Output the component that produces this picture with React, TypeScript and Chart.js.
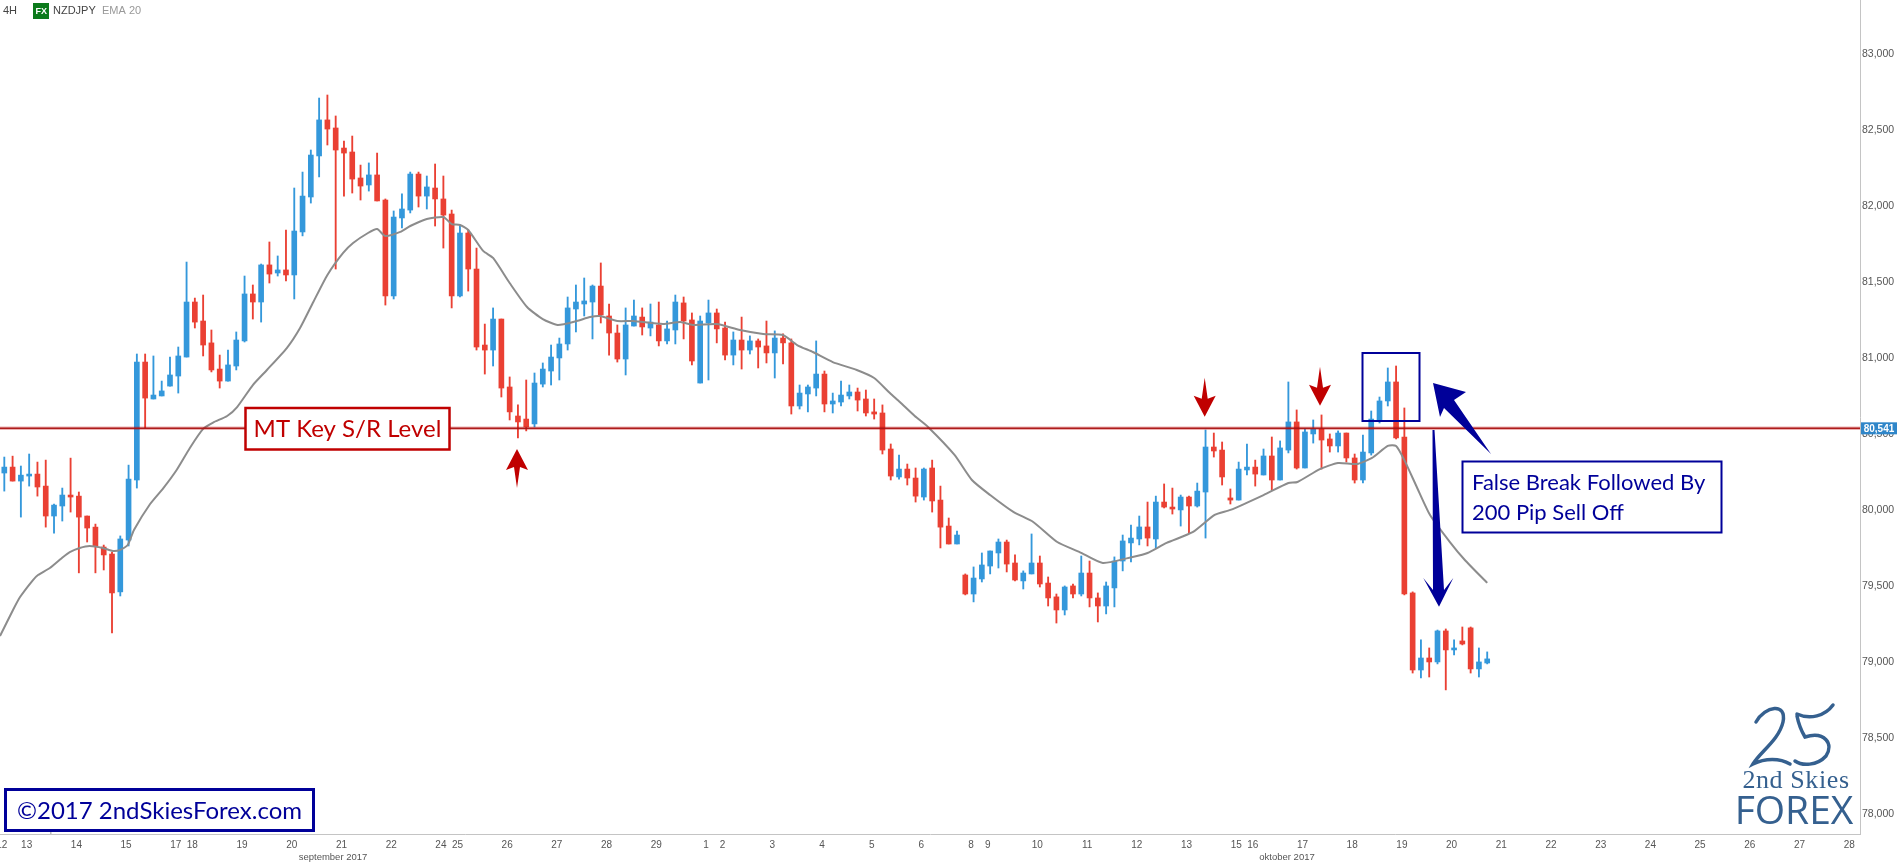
import React, { useEffect, useRef } from "react";
import { Chart, registerables } from "chart.js";

Chart.register(...registerables);

const highs = [
  80348,80354,80289,80368,80315,80328,80039,80144,80341,80118,
  79960,79907,79769,79723,79829,80295,81026,81026,81013,80848,
  81006,81072,81631,81394,81414,81184,81019,81052,81171,81539,
  81480,81618,81763,81671,81842,82118,82223,82368,82710,82730,
  82592,82427,82460,82269,82283,82348,82046,81967,82079,82223,
  82223,82197,82276,82197,81973,81875,81842,81723,81223,81329,
  81256,80875,80691,80855,80901,80967,81085,81131,81401,81480,
  81526,81480,81625,81355,81217,81329,81381,81329,81355,81368,
  81243,81414,81401,81296,81276,81381,81322,81236,81171,81269,
  81145,81125,81243,81178,81158,81125,80822,80822,81112,80914,
  80769,80848,80822,80802,80789,80730,80691,80434,80361,80302,
  80276,80276,80328,80157,79947,79861,79579,79625,79717,79730,
  79809,79802,79704,79599,79842,79697,79559,79447,79500,79513,
  79697,79664,79454,79526,79691,79835,79901,79960,80052,80091,
  80171,80144,80098,80091,80177,80526,80506,80447,80138,80315,
  80434,80328,80401,80480,80454,80842,80658,80533,80592,80625,
  80500,80520,80506,80368,80493,80651,80743,80934,80947,80671,
  79461,79145,79092,79210,79217,79145,79230,79230,79092,79066,
];
const lows = [
  80124,80190,79953,80157,80091,79887,79848,79927,79986,79586,
  79789,79586,79605,79191,79434,79763,80144,80539,80730,80750,
  80815,80769,81006,81197,81013,80908,80802,80848,80921,81105,
  81256,81236,81493,81539,81506,81388,81803,82019,82191,82401,
  81585,82065,82085,82039,82098,82033,81348,81388,81855,81954,
  81993,81980,81868,81723,81329,81401,81440,81052,80894,80947,
  80743,80592,80474,80520,80546,80809,80822,80855,81052,81171,
  81276,81125,81230,81019,80973,80888,81210,81151,81145,81079,
  81092,81092,81125,80954,80835,80855,81099,80987,80954,80927,
  81026,80934,80967,80868,80960,80631,80664,80645,80750,80645,
  80638,80684,80730,80651,80618,80598,80368,80197,80203,80164,
  80052,80065,79986,79750,79776,79776,79441,79395,79526,79579,
  79618,79592,79533,79480,79579,79493,79368,79256,79309,79421,
  79434,79362,79263,79316,79362,79599,79658,79770,79763,79750,
  80013,79973,79894,79848,80019,79815,80348,80164,80039,80065,
  80230,80157,80230,80131,80197,80375,80269,80276,80440,80269,
  80381,80381,80315,80177,80177,80361,80572,80684,80467,79441,
  78927,78895,78901,78987,78816,79046,79112,78927,78901,78987,
];
const opens = [
  80243,80282,80190,80223,80236,80157,79960,80026,80098,80091,
  79960,79887,79756,79710,79461,79802,80197,80973,80730,80750,
  80815,80881,81006,81368,81243,81099,80927,80848,80947,81112,
  81421,81368,81612,81559,81579,81546,81829,82059,82329,82566,
  82513,82381,82355,82184,82138,82204,82039,81408,81921,81973,
  82210,82065,82118,82046,81947,81408,81822,81585,81085,81052,
  81256,80809,80618,80598,80566,80828,80914,81000,81092,81322,
  81355,81368,81473,81276,81164,80993,81210,81269,81197,81217,
  81112,81184,81362,81250,80835,81230,81296,81197,81019,81118,
  81052,81112,81079,81033,81131,81099,80684,80763,80802,80894,
  80697,80710,80750,80776,80730,80645,80638,80401,80217,80269,
  80210,80085,80276,80065,79894,79776,79572,79447,79546,79631,
  79717,79789,79651,79533,79579,79651,79519,79428,79342,79500,
  79447,79585,79421,79368,79487,79664,79783,79809,79888,79809,
  80052,80019,80000,80085,80026,80118,80414,80394,80079,80065,
  80263,80282,80230,80355,80197,80394,80579,80276,80500,80533,
  80467,80421,80506,80342,80197,80375,80592,80717,80842,80480,
  79454,78947,79026,79000,79204,79079,79138,79224,78954,78993,
];
const closes = [
  80282,80190,80229,80236,80151,79960,80032,80098,80085,79953,
  79881,79763,79704,79454,79809,80203,80973,80736,80756,80783,
  80888,81013,81368,81236,81085,80921,80848,80954,81118,81421,
  81368,81612,81552,81579,81546,81835,82065,82335,82566,82506,
  82368,82348,82177,82131,82204,82033,81408,81927,81980,82210,
  82065,82125,82046,81940,81408,81822,81585,81072,81052,81256,
  80802,80645,80579,80546,80835,80927,81006,81092,81329,81368,
  81375,81473,81283,81164,80993,81217,81276,81204,81236,81112,
  81191,81368,81243,80980,81243,81296,81191,81019,81118,81052,
  81112,81072,81033,81131,81099,80684,80769,80809,80894,80697,
  80717,80756,80776,80723,80638,80631,80394,80223,80269,80210,
  80091,80269,80059,79887,79776,79835,79447,79552,79638,79730,
  79789,79644,79539,79585,79651,79513,79421,79342,79493,79447,
  79585,79421,79368,79500,79664,79796,79815,79888,79815,80052,
  80019,80006,80085,80026,80124,80414,80388,80217,80065,80269,
  80282,80236,80355,80197,80408,80579,80276,80513,80533,80460,
  80421,80506,80342,80197,80381,80598,80717,80842,80474,79447,
  78947,79026,79000,79204,79079,79092,79118,78954,79000,79020,
];

const emaIndex = [
  -0.52,1.05,1.9,3.46,4.07,5.5,7.1,7.9,9.1,10.3,11.9,13.1,14,14.9,15.65,17.6,19.2,20.8,22.4,24,
  25.2,26.9,28.1,30,31.7,34.1,35.7,37.3,39,40.9,42.1,43.9,45,46,47.8,49,51,53,54,55,
  56,57.8,59,61,63.1,65,66.8,69.1,70.7,71.9,74,75.9,79.5,81.6,83.1,86,88.8,91.6,94,95.7,
  97.6,100,102.9,105,106.9,108.1,109.9,111.5,114.7,116.8,119,121.8,124.2,127.1,129.8,132.6,136.2,138,140.3,143.5,
  146.1,148,152,155,156.1,158.8,161,163.3,165.1,167,168,169,170.5,172.1,174.5,176.3,179,
];
const emaPrice = [
  79171,79342,79427,79539,79572,79618,79691,79723,79750,79763,79750,79730,79737,79769,79868,80039,80144,80263,80408,80533,
  80575,80618,80677,80822,80921,81065,81197,81368,81546,81691,81756,81822,81848,81802,81829,81868,81914,81927,81881,81875,
  81842,81704,81658,81493,81335,81256,81217,81243,81269,81276,81243,81243,81223,81236,81217,81223,81184,81158,81151,81085,
  81039,80973,80921,80868,80769,80710,80618,80546,80362,80197,80098,79987,79921,79789,79723,79651,79691,79717,79783,79855,
  79967,80000,80098,80177,80184,80269,80309,80302,80342,80421,80421,80328,80151,79967,79789,79671,79520,
];

const keyLevel = 80537;
const lastPriceLabel = "80,541";
const priceTicks = [78000,78500,79000,79500,80000,80500,81000,81500,82000,82500,83000];
const dayLabels = ["12","13","14","15","17","18","19","20","21","22","24","25","26","27","28","29","1","2","3","4","5","6","8","9","10","11","12","13","15","16","17","18","19","20","21","22","23","24","25","26","27","28"];
const dayIndex = [0,3,9,15,21,23,29,35,41,47,53,55,61,67,73,79,85,87,93,99,105,111,117,119,125,131,137,143,149,151,157,163,169,175,181,187,193,199,205,211,217,223];
const monthLabels = ["september 2017", "oktober 2017"];

const BLUE = "#3498db";
const RED = "#ea4033";
const DARK_RED = "#c00000";
const NAVY = "#000099";
const LOGO = "#35608f";

function poly(ctx: CanvasRenderingContext2D, pts: number[][], color: string) {
  ctx.beginPath();
  pts.forEach((p, i) => (i ? ctx.lineTo(p[0], p[1]) : ctx.moveTo(p[0], p[1])));
  ctx.closePath();
  ctx.fillStyle = color;
  ctx.fill();
}
function downArrow(ctx: CanvasRenderingContext2D, x: number, tip: number) {
  poly(ctx, [[x, tip - 39], [x + 3, tip - 18], [x + 11, tip - 21], [x, tip], [x - 11, tip - 21], [x - 3, tip - 18]], DARK_RED);
}
function upArrow(ctx: CanvasRenderingContext2D, x: number, tip: number) {
  poly(ctx, [[x, tip + 39], [x + 3, tip + 18], [x + 11, tip + 21], [x, tip], [x - 11, tip + 21], [x - 3, tip + 18]], DARK_RED);
}
function textBox(ctx: CanvasRenderingContext2D, x: number, y: number, w: number, h: number, color: string, lw: number) {
  ctx.fillStyle = "#fff";
  ctx.fillRect(x, y, w, h);
  ctx.strokeStyle = color;
  ctx.lineWidth = lw;
  ctx.strokeRect(x, y, w, h);
}

const overlay = {
  id: "overlay",
  afterDraw(chart: any) {
    const ctx: CanvasRenderingContext2D = chart.ctx;
    ctx.save();
    ctx.textBaseline = "middle";
    ctx.textAlign = "left";

    // header
    ctx.font = "11px 'Liberation Sans'";
    ctx.fillStyle = "#444";
    ctx.fillText("4H", 3, 11);
    ctx.fillStyle = "#0b7a1b";
    ctx.fillRect(33, 3, 16, 16);
    ctx.fillStyle = "#fff";
    ctx.font = "bold 9px 'Liberation Sans'";
    ctx.fillText("FX", 35.5, 11.5);
    ctx.font = "11px 'Liberation Sans'";
    ctx.fillStyle = "#444";
    ctx.fillText("NZDJPY", 53, 11);
    ctx.fillStyle = "#999";
    ctx.fillText("EMA 20", 102, 11);

    // month labels
    ctx.font = "9.5px 'Liberation Sans'";
    ctx.fillStyle = "#555";
    ctx.textAlign = "center";
    ctx.fillText(monthLabels[0], 333, 857);
    ctx.fillText(monthLabels[1], 1287, 857);

    // last price tag
    const yLevel = chart.scales.y.getPixelForValue(keyLevel);
    ctx.fillStyle = "#2f86c9";
    ctx.fillRect(1861, yLevel - 6, 36, 12);
    ctx.fillStyle = "#fff";
    ctx.font = "bold 10px 'Liberation Sans'";
    ctx.fillText(lastPriceLabel, 1879, yLevel + 0.5);

    // indicative note
    ctx.textAlign = "left";
    ctx.font = "8px 'Liberation Sans'";
    ctx.fillStyle = "#777";
    ctx.fillText("Indicative price", 14, 830);

    // key level box
    textBox(ctx, 245.5, 408, 204, 41.5, DARK_RED, 2.5);
    ctx.font = "24px Lato";
    ctx.fillStyle = DARK_RED;
    ctx.textAlign = "center";
    ctx.fillText("MT Key S/R Level", 347.5, 429);

    // red arrows
    upArrow(ctx, 517, 449);
    downArrow(ctx, 1204.7, 416.7);
    downArrow(ctx, 1320, 405.7);

    // blue square
    ctx.strokeStyle = NAVY;
    ctx.lineWidth = 2;
    ctx.strokeRect(1362.5, 353, 57, 68);

    // big navy arrows
    poly(ctx, [[1432.5, 430], [1434.5, 430], [1444, 590], [1453.3, 578], [1439, 606.7], [1423.3, 578], [1433, 590]], NAVY);
    poly(ctx, [[1433, 383], [1466, 392], [1454, 400], [1491, 454], [1444, 408], [1440, 417]], NAVY);

    // false-break note
    textBox(ctx, 1462.5, 461.5, 259, 71, NAVY, 2);
    ctx.font = "22px Lato";
    ctx.fillStyle = NAVY;
    ctx.textAlign = "left";
    ctx.fillText("False Break Followed By", 1472, 483);
    ctx.fillText("200 Pip Sell Off", 1472, 513);

    // copyright
    textBox(ctx, 5.5, 789.5, 308, 41, NAVY, 3);
    ctx.font = "24px Lato";
    ctx.fillStyle = NAVY;
    ctx.textAlign = "center";
    ctx.fillText("©2017 2ndSkiesForex.com", 159.5, 811);

    // logo
    ctx.strokeStyle = LOGO;
    ctx.lineCap = "round";
    ctx.lineWidth = 3.5;
    ctx.beginPath();
    ctx.moveTo(1756, 722);
    ctx.bezierCurveTo(1765, 706, 1787, 702, 1783, 722);
    ctx.bezierCurveTo(1779, 740, 1760, 752, 1753, 764);
    ctx.bezierCurveTo(1765, 758, 1780, 758, 1790, 764);
    ctx.stroke();
    ctx.beginPath();
    ctx.moveTo(1797, 714);
    ctx.bezierCurveTo(1810, 720, 1825, 716, 1833, 705);
    ctx.moveTo(1797, 716);
    ctx.bezierCurveTo(1799, 726, 1802, 732, 1805, 737);
    ctx.bezierCurveTo(1825, 731, 1834, 744, 1826, 756);
    ctx.bezierCurveTo(1817, 766, 1802, 766, 1795, 761);
    ctx.stroke();
    ctx.fillStyle = LOGO;
    ctx.textAlign = "center";
    ctx.font = "26px 'Liberation Serif'";
    (ctx as any).letterSpacing = "0.6px";
    ctx.fillText("2nd Skies", 1796, 781);
    (ctx as any).letterSpacing = "0px";
    ctx.font = "39px 'Open Sans'";
    ctx.fillText("FOREX", 1794, 813);
    ctx.restore();
  },
};

export default function App() {
  const ref = useRef<HTMLCanvasElement>(null);
  useEffect(() => {
    document.body.style.margin = "0";
    document.body.style.overflow = "hidden";
    const idx = opens.map((_, i) => i);
    const colors = opens.map((o, i) => (closes[i] >= o ? BLUE : RED));
    const chart = new Chart(ref.current as HTMLCanvasElement, {
      type: "bar",
      data: {
        datasets: [
          {
            type: "line",
            order: 0,
            data: [{ x: -0.52, y: keyLevel }, { x: 224, y: keyLevel }],
            borderColor: "rgba(170,20,20,0.95)",
            borderWidth: 1.5,
            pointRadius: 0,
          },
          {
            type: "line",
            order: 1,
            data: [{ x: -0.52, y: keyLevel }, { x: 224, y: keyLevel }],
            borderColor: "rgba(192,0,0,0.3)",
            borderWidth: 3.5,
            pointRadius: 0,
          },
          {
            type: "line",
            order: 2,
            data: emaIndex.map((x, i) => ({ x, y: emaPrice[i] })),
            borderColor: "#8c8c8c",
            borderWidth: 2,
            pointRadius: 0,
            tension: 0.2,
          },
          {
            type: "bar",
            order: 3,
            grouped: false,
            barThickness: 5,
            borderWidth: 0,
            backgroundColor: colors,
            data: idx.map((i) => ({ x: i, y: [opens[i], closes[i]] })),
          },
          {
            type: "bar",
            order: 4,
            grouped: false,
            barThickness: 1.2,
            borderWidth: 0,
            backgroundColor: colors,
            data: idx.map((i) => ({ x: i, y: [lows[i], highs[i]] })),
          },
        ] as any,
      },
      options: {
        responsive: false,
        animation: false,
        layout: { padding: 0 },
        plugins: { legend: { display: false }, tooltip: { enabled: false } },
        scales: {
          x: {
            type: "linear",
            offset: false,
            min: -0.52,
            max: 224,
            grid: { display: false, drawTicks: false },
            border: { color: "#c4c4c4" },
            afterFit: (s: any) => { s.height = 28; s.paddingLeft = 0; s.paddingRight = 0; },
            afterBuildTicks: (s: any) => { s.ticks = dayIndex.map((v) => ({ value: v - 0.3 })); },
            ticks: {
              autoSkip: false,
              maxRotation: 0,
              padding: 5,
              color: "#555",
              font: { family: "'Liberation Sans'", size: 10 },
              callback: (_v: any, i: number) => dayLabels[i],
            },
          },
          y: {
            type: "linear",
            position: "right",
            min: 77868,
            max: 83355,
            grid: { display: false, drawTicks: false },
            border: { color: "#c4c4c4" },
            afterFit: (s: any) => { s.width = 37; s.paddingTop = 0; s.paddingBottom = 0; },
            afterBuildTicks: (s: any) => { s.ticks = priceTicks.map((v) => ({ value: v })); },
            ticks: {
              padding: 2,
              color: "#555",
              font: { family: "'Liberation Sans'", size: 10.5 },
              callback: (v: any) => Number(v).toLocaleString("en-US"),
            },
          },
        },
      } as any,
      plugins: [overlay],
    });
    return () => chart.destroy();
  }, []);
  return (
    <div style={{ position: "absolute", left: 0, top: 0, width: 1897, height: 862 }}>
      <canvas ref={ref} width={1897} height={862} style={{ display: "block" }} />
    </div>
  );
}
